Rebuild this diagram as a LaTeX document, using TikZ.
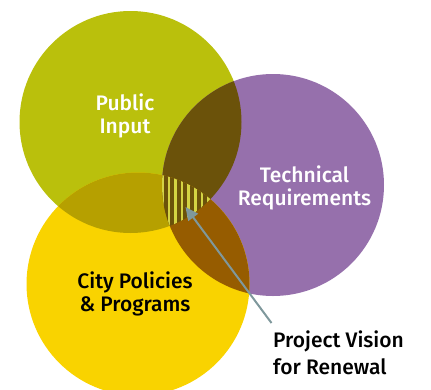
\documentclass[tikz,border=0pt]{standalone}
\usepackage{fontspec}
\setmainfont{Fira Sans Medium}
\usetikzlibrary{arrows.meta}
\definecolor{cgreen}{HTML}{BAC00C}
\definecolor{cpurple}{HTML}{9670AC}
\definecolor{cyellow}{HTML}{F9D300}
\definecolor{cgp}{HTML}{6B520A}
\definecolor{cgy}{HTML}{B6A000}
\definecolor{cpy}{HTML}{965C00}
\definecolor{cstripe}{HTML}{D4D443}
\definecolor{carrow}{HTML}{7F989C}
\tikzset{
  lbl/.style={align=center, font=\fontsize{21}{22.5}\selectfont, inner sep=0pt},
}
\begin{document}
\begin{tikzpicture}[x=1pt,y=-1pt]
\useasboundingbox (0,0) rectangle (431,389);
\begin{scope}
\clip (0,0) rectangle (431,389);
\def\GC{(130.5,122) circle[radius=111]}
\def\PC{(273,185) circle[radius=111]}
\def\YC{(138,284) circle[radius=111.5]}
\fill[cgreen] \GC;
\fill[cpurple] \PC;
\fill[cyellow] \YC;
\begin{scope}\clip \GC; \fill[cgp] \PC; \end{scope}
\begin{scope}\clip \GC; \fill[cgy] \YC; \end{scope}
\begin{scope}\clip \PC; \fill[cpy] \YC; \end{scope}
\begin{scope}\clip \GC; \clip \PC; \clip \YC; \fill[cgp] (150,160) rectangle (230,240);
  \foreach \k in {0,...,8} {
    \fill[cstripe] ({161+6.6*\k},160) rectangle ({163.6+6.6*\k},240);
  }
\end{scope}
\end{scope}
\node[lbl, text=white] (pub) at (125,116) {Public\\Input};
\node[lbl, text=white] (tech) at (304.5,188) {Technical\\Requirements};
\node[lbl, text=black] (city) at (135,294) {City Policies\\\&~Programs};
\node[lbl, text=black, align=left, anchor=west, font=\fontsize{21}{27}\selectfont] (vis) at (273,353) {Project Vision\\for Renewal};
\coordinate (tail) at (271.5,323);
\coordinate (tip) at (185.5,207);
\draw[carrow, line width=2pt, -{Triangle[length=13pt,width=12pt]}] (tail) -- (tip);
\end{tikzpicture}
\end{document}
